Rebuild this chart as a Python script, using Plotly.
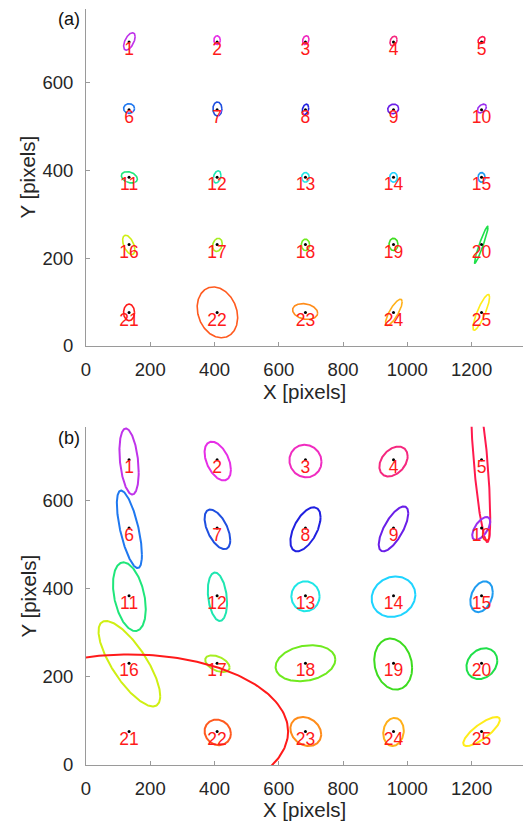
import numpy as np
import plotly.graph_objects as go

# ---------------- data ----------------
labels = [str(i) for i in range(1, 26)]
grid_x = [134, 408, 683, 957, 1231]
grid_y = [693, 538, 384, 231, 76]

colors = ['#bf33ea', '#e62ee6', '#f02cc0', '#f5287f', '#ff1a4d',
          '#1f78f0', '#1f4fe0', '#2020e0', '#6a1fe8', '#9a2ff0',
          '#1fe67a', '#1fe6b0', '#1fe6e6', '#1fd4ff', '#1f9cf0',
          '#cfef13', '#a6ee22', '#70ea1f', '#3ddc1f', '#1fe04a',
          '#ff1a1a', '#ff5a1f', '#ff8c1a', '#ffb01a', '#ffec1a']

# panel (a) ellipses: centre x, centre y, sigma x, sigma y, correlation
a_cx = [135, 408, 684, 957, 1231, 134, 409, 683, 956, 1232, 135, 408, 683, 957, 1231,
        133, 409, 683, 957, 1230, 134, 409, 682, 958, 1230]
a_cy = [694, 697, 697, 695, 697, 541, 540, 539, 540, 541, 384, 385, 384, 384, 384,
        230, 230, 230, 231, 230, 76, 76, 78, 76, 76]
a_sx = [18, 10, 10, 11, 11, 17, 14, 10, 17, 14, 25, 12, 12, 12, 11,
        19, 15, 13, 14, 21, 17, 63, 39, 26, 26]
a_sy = [20, 10, 10, 11, 8, 11, 16, 12, 11, 10, 13, 14, 11, 11, 11,
        22, 15, 13, 14, 42, 19, 58, 18, 30, 41]
a_rho = [0.55, 0.0, 0.2, 0.3, 0.3, 0.0, 0.0, 0.3, 0.1, 0.4, -0.3, 0.3, 0.0, 0.0, 0.0,
         -0.5, 0.2, 0.0, 0.0, 0.95, 0.0, -0.2, -0.2, 0.8, 0.85]

# panel (b) ellipses
b_cx = [134, 410, 683, 957, 1228, 135, 409, 683, 957, 1230, 135, 409, 683, 957, 1231,
        135, 409, 683, 956, 1232, 134, 410, 684, 957, 1231]
b_cy = [689, 690, 690, 689, 690, 535, 535, 535, 536, 537, 382, 382, 383, 382, 382,
        230, 230, 231, 229, 230, 76, 74, 76, 75, 76]
b_sx = [30, 41, 50, 44, 30, 39, 40, 47, 46, 28, 51, 30, 44, 68, 35,
        96, 38, 93, 59, 48, 495, 41, 48, 32, 57]
b_sy = [75, 44, 37, 34, 184, 88, 45, 50, 51, 26, 78, 55, 34, 46, 35,
        97, 19, 41, 58, 35, 175, 29, 33, 32, 33]
b_rho = [-0.33, -0.45, -0.05, 0.35, -0.7, -0.66, -0.55, 0.55, 0.7, 0.6, -0.36, -0.25, 0.0, 0.1, 0.3,
         -0.76, -0.45, 0.2, -0.15, 0.2, 0.0, -0.1, -0.2, 0.1, 0.8]

x_ticks = [0, 200, 400, 600, 800, 1000, 1200]
y_ticks = [0, 200, 400, 600]

# ---------------- figure ----------------
W, H = 523, 823
fig = go.Figure()
t = np.linspace(0, 2 * np.pi, 240)
dot_x = [grid_x[i % 5] for i in range(25)]
dot_y = [grid_y[i // 5] for i in range(25)]

panels = [("x", "y", a_cx, a_cy, a_sx, a_sy, a_rho, 1.6),
          ("x2", "y2", b_cx, b_cy, b_sx, b_sy, b_rho, 2.0)]
for xa, ya, cx, cy, sx, sy, rho, lw in panels:
    for i in range(25):
        r = rho[i]
        ex = cx[i] + sx[i] * np.cos(t)
        ey = cy[i] + sy[i] * (r * np.cos(t) + np.sqrt(1 - r * r) * np.sin(t))
        fig.add_trace(go.Scatter(x=ex, y=ey, mode="lines", xaxis=xa, yaxis=ya,
                                 line=dict(color=colors[i], width=lw),
                                 hoverinfo="skip", showlegend=False))
    fig.add_trace(go.Scatter(x=dot_x, y=dot_y, mode="markers", xaxis=xa, yaxis=ya,
                             marker=dict(color="black", size=3),
                             showlegend=False, hoverinfo="skip"))
    fig.add_trace(go.Scatter(x=dot_x, y=dot_y, mode="text", text=labels,
                             textposition="bottom center", xaxis=xa, yaxis=ya,
                             textfont=dict(color="#ff1a1a", size=17.5,
                                           family="Liberation Sans, Arial, sans-serif"),
                             showlegend=False, hoverinfo="skip"))

L = 86
da = [1 - 345.7 / H, 1 - 9 / H]
db = [1 - 765 / H, 1 - 426.7 / H]

axis_common = dict(showline=True, linecolor="#9a9a9a", linewidth=1, mirror=False,
                   ticks="inside", ticklen=4, tickcolor="#9a9a9a", showgrid=False,
                   zeroline=False, automargin=False,
                   tickfont=dict(size=18.5, color="#262626",
                                 family="Liberation Sans, Arial, sans-serif"))

fig.update_layout(
    width=W, height=H, autosize=False,
    margin=dict(l=L, r=0, t=0, b=0, pad=0),
    paper_bgcolor="white", plot_bgcolor="white",
    xaxis=dict(domain=[0, 1], range=[0, 1360], tickvals=x_ticks, anchor="y",
               ticklabelstandoff=7, **axis_common),
    yaxis=dict(domain=da, range=[0, 768], tickvals=y_ticks, anchor="x",
               ticklabelstandoff=8, **axis_common),
    xaxis2=dict(domain=[0, 1], range=[0, 1360], tickvals=x_ticks, anchor="y2",
                ticklabelstandoff=7, **axis_common),
    yaxis2=dict(domain=db, range=[0, 768], tickvals=y_ticks, anchor="x2",
                ticklabelstandoff=8, **axis_common),
)

font_t = dict(size=20.5, color="#262626", family="Liberation Sans, Arial, sans-serif")
ann = []
for ytitle_c, xtitle_c, tag, tag_y in [(177, 391, "(a)", 19), (596, 809, "(b)", 437.5)]:
    ann.append(dict(text="X [pixels]", xref="paper", yref="paper", x=0.5,
                    y=1 - xtitle_c / H, xanchor="center", yanchor="middle",
                    showarrow=False, font=font_t))
    ann.append(dict(text="Y [pixels]", xref="paper", yref="paper",
                    x=(27.5 - L) / (W - L), y=1 - ytitle_c / H, textangle=-90,
                    xanchor="center", yanchor="middle", showarrow=False, font=font_t))
    ann.append(dict(text=tag, xref="paper", yref="paper", x=(82 - L) / (W - L),
                    y=1 - tag_y / H, xanchor="right", yanchor="middle", showarrow=False,
                    font=dict(size=18, color="#111111",
                              family="Liberation Sans, Arial, sans-serif")))
fig.update_layout(annotations=ann)

fig.write_html("out.html", config={"responsive": False, "displayModeBar": False},
               post_script="document.body.style.margin='0';document.body.style.overflow='hidden';")
